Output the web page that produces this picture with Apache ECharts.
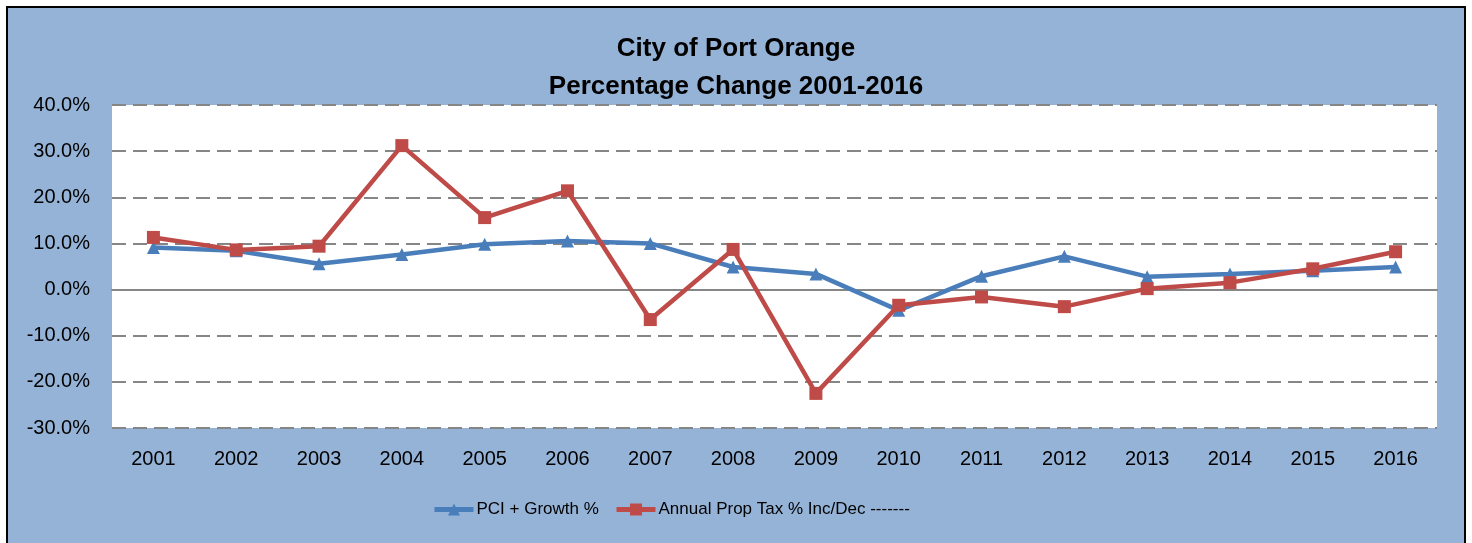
<!DOCTYPE html>
<html>
<head>
<meta charset="utf-8">
<script src="https://cdn.jsdelivr.net/npm/echarts@6/dist/echarts.min.js"></script>
<style>
  html, body { margin: 0; padding: 0; background: #ffffff; overflow: hidden; }
  #wrap { position: absolute; left: 6px; top: 6px; width: 1456px; height: 545px; border: 2px solid #000; background: #95B3D7; }
  #chart { width: 1456px; height: 545px; }
</style>
</head>
<body>
<div id="wrap"><div id="chart"></div></div>
<script>
const titleLines = ['City of Port Orange', 'Percentage Change 2001-2016'];
const years = ['2001','2002','2003','2004','2005','2006','2007','2008','2009','2010','2011','2012','2013','2014','2015','2016'];
const pciGrowth = [9.1, 8.4, 5.6, 7.6, 9.8, 10.5, 10.0, 4.9, 3.4, -4.5, 2.9, 7.2, 2.8, 3.4, 4.1, 4.9];
const propTax = [11.3, 8.6, 9.4, 31.2, 15.6, 21.4, -6.5, 8.7, -22.5, -3.4, -1.6, -3.7, 0.2, 1.5, 4.5, 8.2];
const seriesNames = ['PCI + Growth %', 'Annual Prop Tax % Inc/Dec -------'];
const yMin = -30, yMax = 40, yStep = 10;

const font = '"Liberation Sans", Arial, sans-serif';
const blue = '#4A7EBB', red = '#BE4B48';
const chart = echarts.init(document.getElementById('chart'), null, { renderer: 'canvas' });

function legendAt(name, left) {
  return {
    data: [name],
    left: left, top: 488,
    itemWidth: 39, itemHeight: 15, itemGap: 0,
    lineStyle: { width: 5 },
    textStyle: { fontFamily: font, fontSize: 17, color: '#000', padding: [0, 0, 0, -2] }
  };
}

chart.setOption({
  backgroundColor: '#95B3D7',
  animation: false,
  title: {
    text: titleLines.join('\n'),
    left: 'center',
    top: 22,
    padding: 0,
    textStyle: { fontFamily: font, fontWeight: 'bold', fontSize: 26, lineHeight: 38, color: '#000' }
  },
  legend: [legendAt(seriesNames[0], 419), legendAt(seriesNames[1], 601)],
  grid: {
    left: 104, top: 97, width: 1325, height: 323,
    show: true, backgroundColor: '#ffffff', borderWidth: 0, containLabel: false
  },
  xAxis: [
    {
      type: 'category',
      data: years,
      boundaryGap: true,
      position: 'bottom',
      axisLine: { show: false, onZero: false },
      axisTick: { show: false },
      axisLabel: { fontFamily: font, fontSize: 20, color: '#000', margin: 21 },
      splitLine: { show: false }
    },
    {
      type: 'category',
      data: years,
      boundaryGap: true,
      position: 'bottom',
      axisLine: { show: true, onZero: true, lineStyle: { color: '#868686', width: 2 } },
      axisTick: { show: false },
      axisLabel: { show: false },
      splitLine: { show: false }
    }
  ],
  yAxis: {
    type: 'value',
    min: yMin, max: yMax, interval: yStep,
    axisLine: { show: false },
    axisTick: { show: false },
    axisLabel: {
      fontFamily: font, fontSize: 20, color: '#000', margin: 22,
      formatter: v => v.toFixed(1) + '%'
    },
    splitLine: { show: true, lineStyle: { color: '#868686', width: 2, type: [14, 7] } }
  },
  series: [
    {
      name: seriesNames[0],
      type: 'line',
      data: pciGrowth,
      xAxisIndex: 0,
      symbol: 'triangle',
      symbolSize: 13,
      lineStyle: { color: blue, width: 4.5 },
      itemStyle: { color: blue },
      z: 3
    },
    {
      name: seriesNames[1],
      type: 'line',
      data: propTax,
      xAxisIndex: 0,
      symbol: 'rect',
      symbolSize: 13,
      lineStyle: { color: red, width: 4.5 },
      itemStyle: { color: red },
      z: 4
    }
  ]
});
</script>
</body>
</html>
